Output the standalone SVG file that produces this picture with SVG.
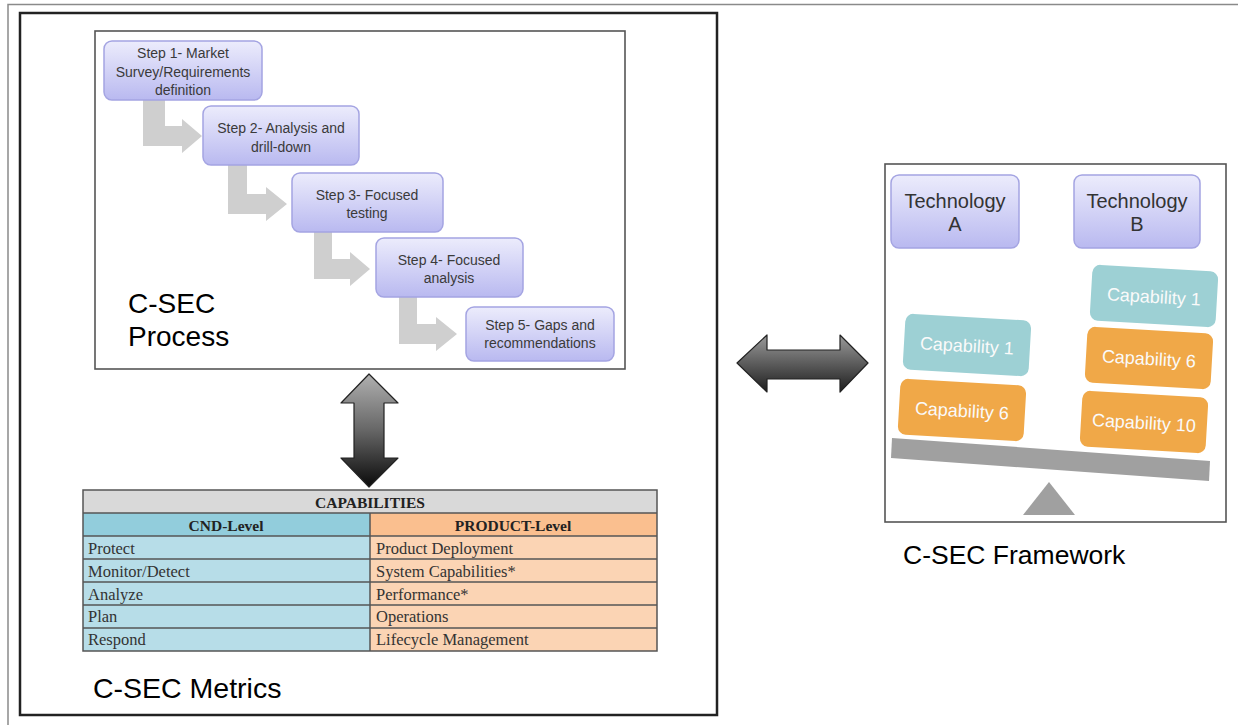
<svg xmlns="http://www.w3.org/2000/svg" width="1238" height="725" viewBox="0 0 1238 725">
<defs>
<linearGradient id="lav" x1="0" y1="0" x2="0" y2="1">
<stop offset="0" stop-color="#ececfc"/>
<stop offset="1" stop-color="#b9b9f0"/>
</linearGradient>
<linearGradient id="vgrad" x1="0" y1="0" x2="0" y2="1">
<stop offset="0" stop-color="#b0b0b0"/>
<stop offset="0.5" stop-color="#666"/>
<stop offset="1" stop-color="#0a0a0a"/>
</linearGradient>
<linearGradient id="hgrad" x1="0" y1="0" x2="0" y2="1">
<stop offset="0" stop-color="#9a9a9a"/>
<stop offset="1" stop-color="#1e1e1e"/>
</linearGradient>
</defs>
<style>
.frame{fill:none;stroke:#8a8a8a;stroke-width:1.5}
.main{fill:#fff;stroke:#222;stroke-width:2.5}
.panel{fill:#fff;stroke:#555;stroke-width:1.6}
.step{fill:url(#lav);stroke:#a4a4e2;stroke-width:1.5}
.st{font-family:"Liberation Sans",Arial,sans-serif;font-size:14px;fill:#3a3a3a;text-anchor:middle}
.bent{fill:#cfcfcf}
.big{font-family:"Liberation Sans",Arial,sans-serif;font-size:28px;fill:#000}
.tech{font-family:"Liberation Sans",Arial,sans-serif;font-size:20px;fill:#333;text-anchor:middle}
.teal{fill:#9dd0d4}
.orng{fill:#f0a848}
.cap{font-family:"Liberation Sans",Arial,sans-serif;font-size:18px;fill:#fafafa;text-anchor:middle}
.tb{stroke:#555;stroke-width:1.5}
.tt{font-family:"Liberation Serif","Times New Roman",serif;font-size:16.5px;fill:#333}
.th{font-family:"Liberation Serif","Times New Roman",serif;font-size:15.5px;font-weight:bold;fill:#222;text-anchor:middle}
</style>
<rect width="1238" height="725" fill="#fff"/>
<path class="frame" d="M8,725 V4.5 H1238"/>
<g id="main-box"><rect class="main" x="20" y="13" width="697" height="702"/></g>

<g id="process">
<rect class="panel" x="95" y="31" width="530" height="338"/>
<text class="big" x="128" y="313">C-SEC</text>
<text class="big" x="128" y="346">Process</text>
</g>

<g id="connectors">
<polygon class="bent" points="143,100 165,100 165,126 182,126 182,119 202,136 182,153 182,146 143,146"/>
<polygon class="bent" points="228,165 247,165 247,194 266,194 266,187 287,204 266,221 266,214 228,214"/>
<polygon class="bent" points="314,232 332,232 332,259 350,259 350,252 370,269 350,286 350,279 314,279"/>
<polygon class="bent" points="399,297 417,297 417,324 436,324 436,317 457,334 436,351 436,344 399,344"/>
<polygon points="369,374 398,403 384,403 384,458 398,458 369,487 341,458 354,458 354,403 341,403" fill="url(#vgrad)" stroke="#222" stroke-width="1.2" stroke-linejoin="round"/>
<polygon points="737,363 767,335 767,350 840,350 840,335 868,363 840,392 840,379 767,379 767,392" fill="url(#hgrad)" stroke="#222" stroke-width="1.2" stroke-linejoin="round"/>
</g>

<g id="step1"><rect class="step" x="104" y="41" width="158" height="59" rx="8"/>
<text class="st" x="183" y="58">Step 1- Market</text>
<text class="st" x="183" y="77">Survey/Requirements</text>
<text class="st" x="183" y="95">definition</text></g>
<g id="step2"><rect class="step" x="203" y="106" width="156" height="59" rx="8"/>
<text class="st" x="281" y="133">Step 2- Analysis and</text>
<text class="st" x="281" y="152">drill-down</text></g>
<g id="step3"><rect class="step" x="292" y="173" width="151" height="59" rx="8"/>
<text class="st" x="367" y="200">Step 3- Focused</text>
<text class="st" x="367" y="218">testing</text></g>
<g id="step4"><rect class="step" x="376" y="238" width="147" height="59" rx="8"/>
<text class="st" x="449" y="265">Step 4- Focused</text>
<text class="st" x="449" y="283">analysis</text></g>
<g id="step5"><rect class="step" x="466" y="307" width="148" height="54" rx="8"/>
<text class="st" x="540" y="330">Step 5- Gaps and</text>
<text class="st" x="540" y="348">recommendations</text></g>

<g id="metrics">
<rect x="83" y="490" width="574" height="23" fill="#d9d9d9"/>
<rect x="83" y="513" width="287" height="23" fill="#92cddc"/>
<rect x="370" y="513" width="287" height="23" fill="#fabf8f"/>
<rect x="83" y="536" width="287" height="115" fill="#b7dde8"/>
<rect x="370" y="536" width="287" height="115" fill="#fbd4b4"/>
<g class="tb" fill="none">
<rect x="83" y="490" width="574" height="161"/>
<path d="M83,513 H657 M83,536 H657 M83,559 H657 M83,582 H657 M83,605 H657 M83,628 H657 M370,513 V651"/>
</g>
<text class="th" x="370" y="508">CAPABILITIES</text>
<text class="th" x="226" y="531">CND-Level</text>
<text class="th" x="513" y="531">PRODUCT-Level</text>
<text class="tt" x="88" y="554">Protect</text>
<text class="tt" x="88" y="577">Monitor/Detect</text>
<text class="tt" x="88" y="600">Analyze</text>
<text class="tt" x="88" y="622">Plan</text>
<text class="tt" x="88" y="645">Respond</text>
<text class="tt" x="376" y="554">Product Deployment</text>
<text class="tt" x="376" y="577">System Capabilities*</text>
<text class="tt" x="376" y="600">Performance*</text>
<text class="tt" x="376" y="622">Operations</text>
<text class="tt" x="376" y="645">Lifecycle Management</text>
<text class="big" x="93" y="698" style="font-size:28.5px">C-SEC Metrics</text>
</g>

<g id="framework">
<rect class="panel" x="885" y="164" width="341" height="358"/>
<polygon points="892,438 1210,461 1209,481 891,458" fill="#a0a0a0"/>
<polygon points="1049,482 1075,515 1023,515" fill="#a0a0a0"/>
<text class="big" x="903" y="564" style="font-size:26.5px">C-SEC Framework</text>
</g>
<g id="techA"><rect class="step" x="891" y="175" width="128" height="73" rx="8"/>
<text class="tech" x="955" y="208">Technology</text><text class="tech" x="955" y="231">A</text></g>
<g id="techB"><rect class="step" x="1074" y="175" width="126" height="73" rx="8"/>
<text class="tech" x="1137" y="208">Technology</text><text class="tech" x="1137" y="231">B</text></g>

<g id="capA1" transform="rotate(3.3 967 345)"><rect class="teal" x="904" y="317" width="126" height="56" rx="8"/><text class="cap" x="967" y="352">Capability 1</text></g>
<g id="capA6" transform="rotate(3.3 962 410)"><rect class="orng" x="899" y="382" width="126" height="56" rx="8"/><text class="cap" x="962" y="417">Capability 6</text></g>
<g id="capB1" transform="rotate(3.3 1154 296)"><rect class="teal" x="1091" y="268" width="126" height="56" rx="8"/><text class="cap" x="1154" y="303">Capability 1</text></g>
<g id="capB6" transform="rotate(3.3 1149 358)"><rect class="orng" x="1086" y="330" width="126" height="56" rx="8"/><text class="cap" x="1149" y="365">Capability 6</text></g>
<g id="capB10" transform="rotate(3.3 1144 422)"><rect class="orng" x="1081" y="394" width="126" height="56" rx="8"/><text class="cap" x="1144" y="429">Capability 10</text></g>
</svg>
